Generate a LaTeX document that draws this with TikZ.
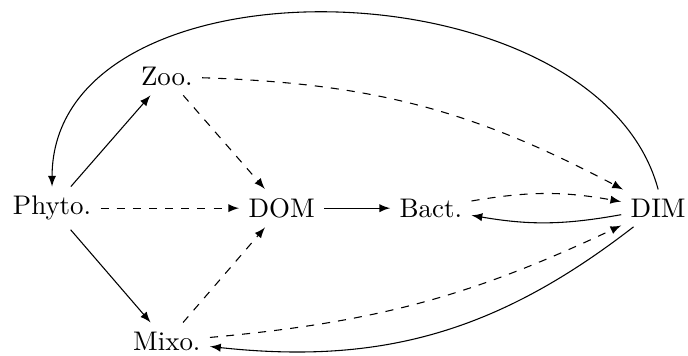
\documentclass[tikz,border=0pt]{standalone}
\usepackage{amsmath}
\usepackage{tikz}
\usetikzlibrary{arrows}

\begin{document}
\begin{tikzpicture}[->,>=latex, auto]
		\useasboundingbox (-0.68,-1.93) rectangle (8.31,2.72);
		\node (phyto) at (0,0)       {Phyto.};
		\node (zoo)   at (1.5,1.72)  {Zoo.};
		\node (mixo)  at (1.5,-1.74) {Mixo.};
		\node (dom)   at (3,0)       {DOM};
		\node (bact)  at (4.95,0)    {Bact.};
		\node (dim)   at (7.92,0)    {DIM};
		\path
		(phyto) edge (zoo)
		(phyto) edge (mixo)
		(phyto) edge[dashed] (dom)
		(zoo) edge[dashed] (dom)
		(mixo) edge[dashed] (dom)
		(dom) edge (bact)
		(zoo) edge[dashed, bend left=13] (dim)
		(bact) edge[dashed, bend left=10] (dim)
		(dim) edge[bend left=10] (bact)
		(mixo) edge[dashed, bend right=10] (dim)
		(dim) edge[bend left=22] (mixo)
		(dim.north) edge[out=105, in=90, looseness=1] (phyto.north);
		
		\end{tikzpicture}
\end{document}
